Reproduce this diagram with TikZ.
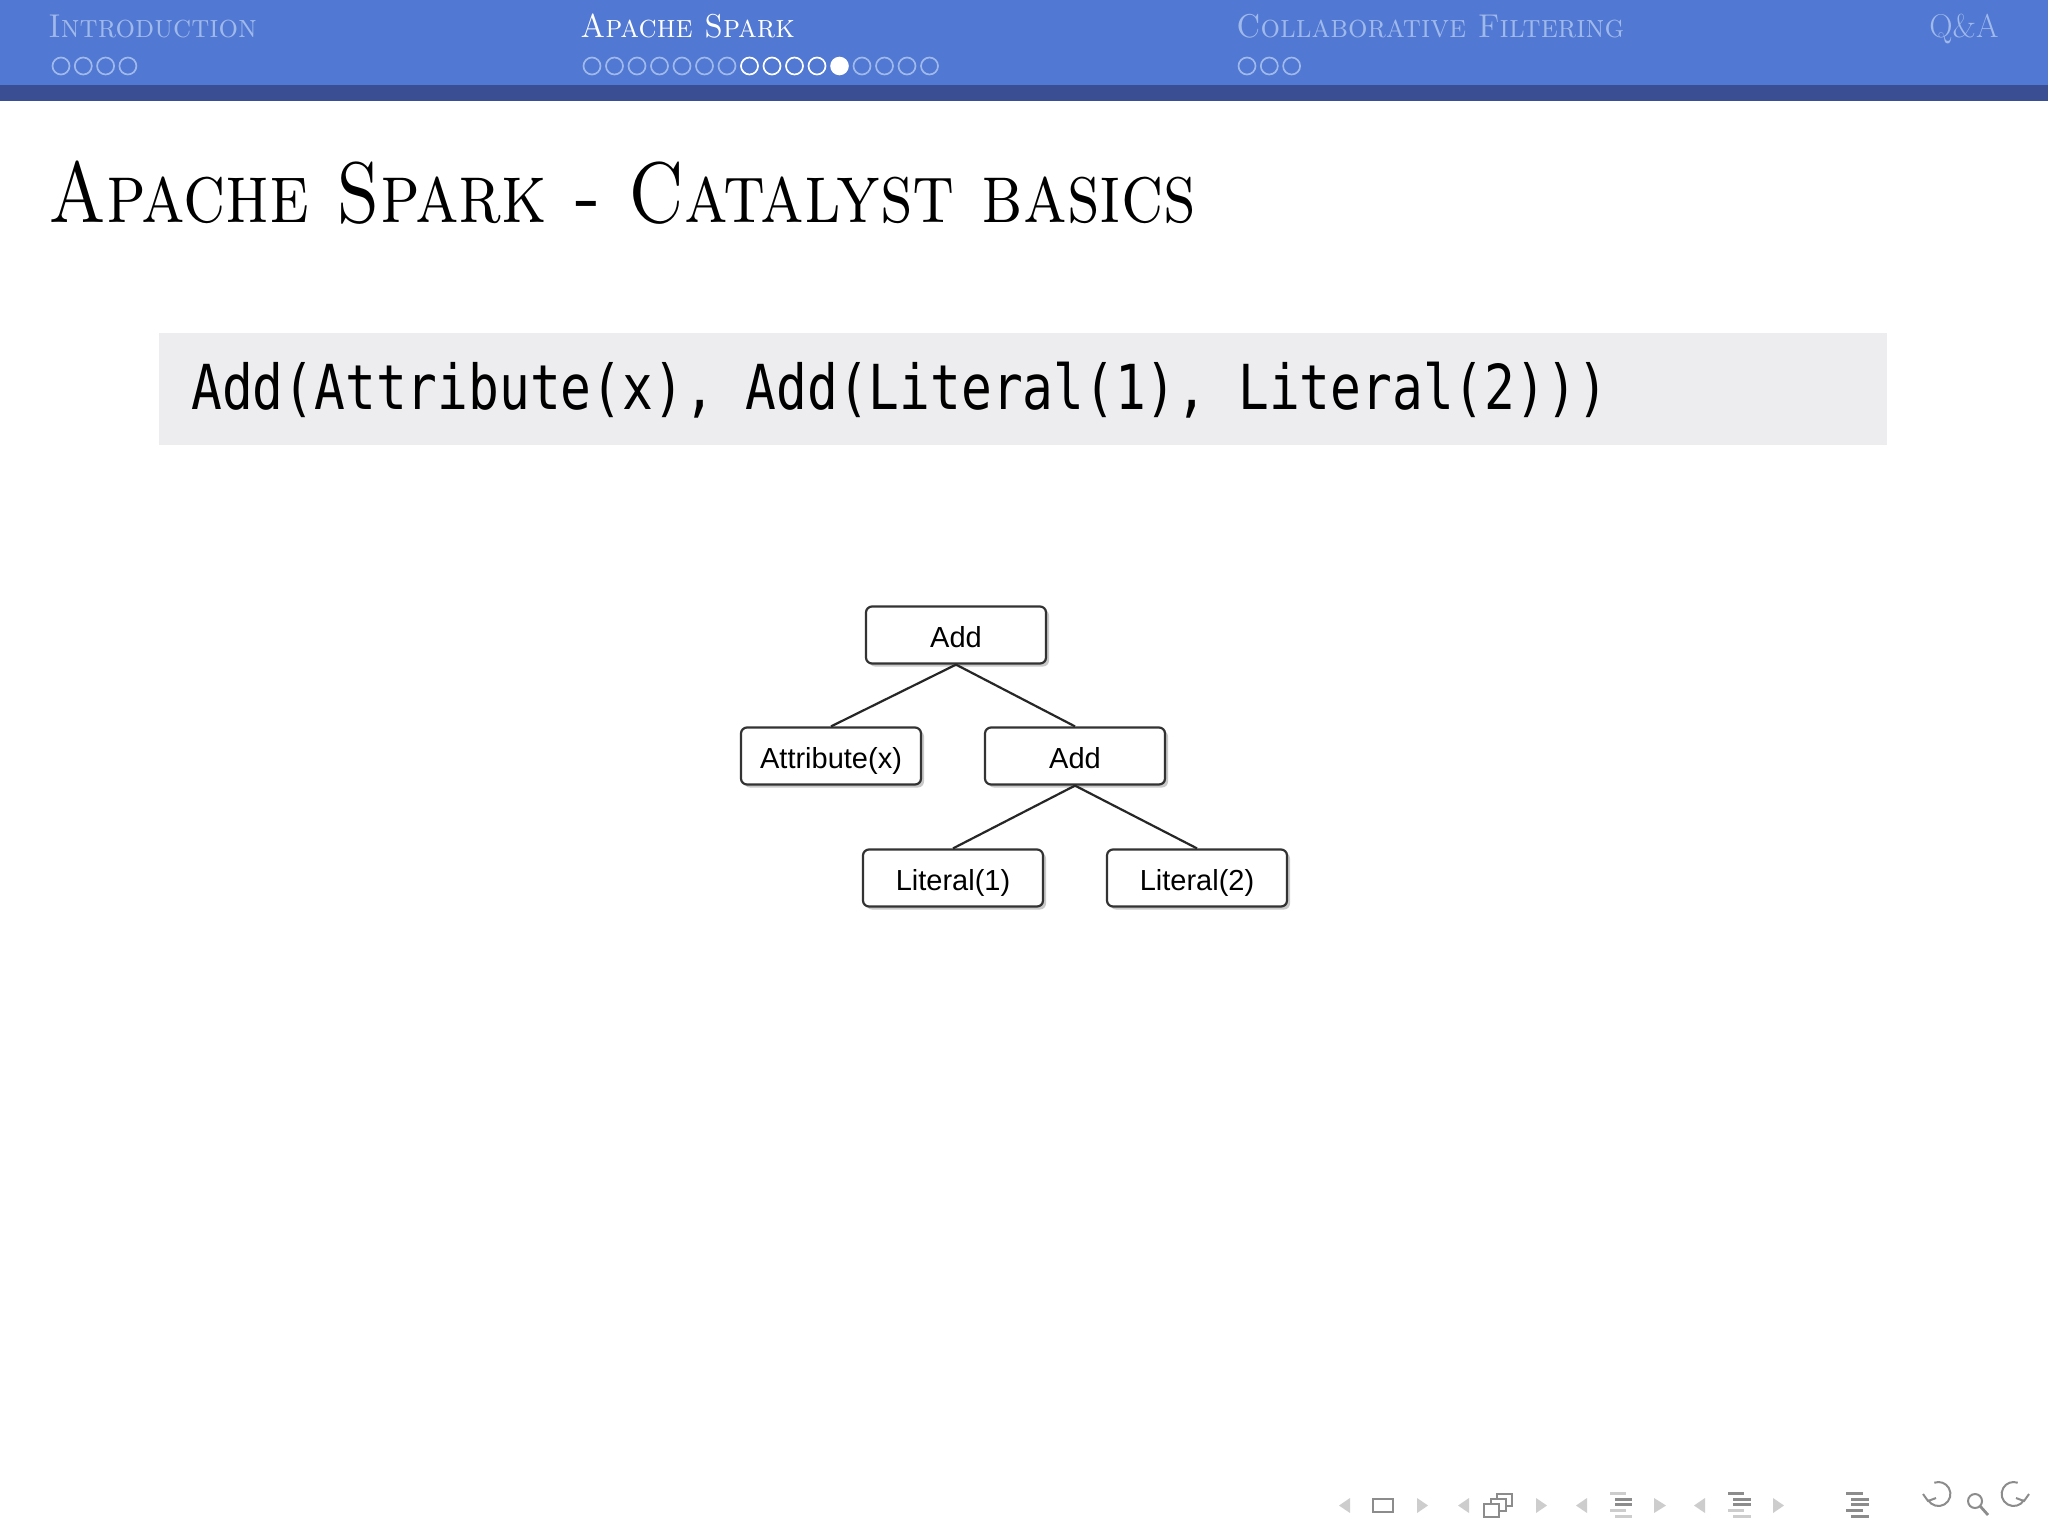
\documentclass[tikz,border=0pt]{standalone}
\usepackage{fontspec}
\newfontfamily\treefont{Liberation Sans}
\newfontfamily\codefont{DejaVu Sans Mono}
\usetikzlibrary{shadows,arrows.meta}
\definecolor{hdr}{RGB}{81,120,210}
\definecolor{hdrdark}{RGB}{58,78,148}
\definecolor{faded}{RGB}{160,185,235}
\definecolor{codebg}{RGB}{237,236,239}
\definecolor{navlight}{RGB}{205,205,205}
\definecolor{navdark}{RGB}{140,140,140}
\newcommand\hsq[1]{\scalebox{0.83}[1]{#1}}
\newcommand\hdrsq[1]{\scalebox{0.93}[1]{#1}}
\tikzset{
  hdrtext/.style={anchor=base west, inner sep=0pt, font=\fontsize{16.5}{16.5}\selectfont},
  tnode/.style={draw=black!80, line width=1.1pt, rounded corners=3pt, fill=white,
    minimum width=90pt, minimum height=28.5pt, inner sep=0pt,
    text height=12.2pt, text depth=0pt,
    font=\treefont\fontsize{14.5}{14.5}\selectfont,
    drop shadow={shadow xshift=1.5pt, shadow yshift=-1.5pt, opacity=0.35, fill=black!60}},
  tedge/.style={line width=1.1pt, black!85},
  fdot/.style={draw=faded, line width=0.85pt},
  wdot/.style={draw=white, line width=0.85pt},
  navtri/.style={fill=navlight},
  navbar/.style={line width=1.5pt},
}
\begin{document}
\begin{tikzpicture}[x=0.5pt,y=-0.5pt]
\useasboundingbox (0,0) rectangle (2048,1536);
\fill[white] (0,0) rectangle (2048,1536);
% header
\fill[hdr] (0,0) rectangle (2048,85);
\fill[hdrdark] (0,85) rectangle (2048,101);
\node[hdrtext, text=faded] (secintro) at (48,38) {\hdrsq{\textsc{Introduction}}};
\node[hdrtext, text=white] (secspark) at (580,38) {\hdrsq{\textsc{Apache Spark}}};
\node[hdrtext, text=faded] (seccf) at (1236,38) {\hdrsq{\textsc{Collaborative Filtering}}};
\node[hdrtext, text=faded] (secqa) at (1929,38) {\scalebox{0.98}[1]{Q\&A}};
% mini frame dots
\foreach \i in {0,...,3} \draw[fdot] (61+22.3*\i,66) ellipse (8.5 and 8.5);
\foreach \i in {0,...,6} \draw[fdot] (592+22.5*\i,66) ellipse (8.5 and 8.5);
\foreach \i in {7,...,10} \draw[wdot] (592+22.5*\i,66) ellipse (8.5 and 8.5);
\fill[white] (592+22.5*11,66) ellipse (9.3 and 9.3);
\foreach \i in {12,...,15} \draw[fdot] (592+22.5*\i,66) ellipse (8.5 and 8.5);
\foreach \i in {0,...,2} \draw[fdot] (1247+22.3*\i,66) ellipse (8.5 and 8.5);
% title
\node[anchor=base west, inner sep=0pt, font=\fontsize{43}{43}\selectfont] (title) at (48,222)
  {\hsq{\textsc{Apache Spark - Catalyst basics}}};
% code box
\node[fill=codebg, inner sep=0pt, minimum width=864pt, minimum height=56pt] (codebox) at (1023,389) {};
\node[anchor=base west, inner sep=0pt, font=\codefont\fontsize{31}{31}\selectfont] (code) at (191,409)
  {\scalebox{0.825}[1]{Add(Attribute(x), Add(Literal(1), Literal(2)))}};
% tree
\node[tnode] (add1) at (956,635) {Add};
\node[tnode] (attr) at (831,756) {Attribute(x)};
\node[tnode] (add2) at (1075,756) {Add};
\node[tnode] (lit1) at (953,878) {Literal(1)};
\node[tnode] (lit2) at (1197,878) {Literal(2)};
\draw[tedge] (add1.south) -- (attr.north);
\draw[tedge] (add1.south) -- (add2.north);
\draw[tedge] (add2.south) -- (lit1.north);
\draw[tedge] (add2.south) -- (lit2.north);
% navigation symbols
\fill[navtri] (1350,1498) -- (1339,1505.5) -- (1350,1513) -- cycle;
\draw[navdark, line width=1.1pt] (1373,1499) rectangle (1393,1512);
\fill[navtri] (1417,1498) -- (1428,1505.5) -- (1417,1513) -- cycle;
\fill[navtri] (1469,1498) -- (1458,1505.5) -- (1469,1513) -- cycle;
\draw[navdark, line width=1.1pt, fill=white] (1497,1494) rectangle (1512,1506);
\draw[navdark, line width=1.1pt, fill=white] (1491,1499) rectangle (1506,1511);
\draw[navdark, line width=1.1pt, fill=white] (1484,1504) rectangle (1499,1517);
\fill[navtri] (1536,1498) -- (1547,1505.5) -- (1536,1513) -- cycle;
\fill[navtri] (1587,1498) -- (1576,1505.5) -- (1587,1513) -- cycle;
\draw[navbar, navlight] (1610,1493) -- (1626,1493);
\draw[navbar, navdark] (1615,1499) -- (1632,1499);
\draw[navbar, navdark] (1615,1504) -- (1632,1504);
\draw[navbar, navlight] (1610,1510) -- (1626,1510);
\draw[navbar, navlight] (1615,1516) -- (1632,1516);
\fill[navtri] (1654,1498) -- (1666,1505.5) -- (1654,1513) -- cycle;
\fill[navtri] (1705,1498) -- (1694,1505.5) -- (1705,1513) -- cycle;
\draw[navbar, navdark] (1728,1493) -- (1744,1493);
\draw[navbar, navdark] (1733,1499) -- (1751,1499);
\draw[navbar, navdark] (1733,1504) -- (1751,1504);
\draw[navbar, navlight] (1728,1510) -- (1744,1510);
\draw[navbar, navlight] (1733,1516) -- (1751,1516);
\fill[navtri] (1773,1498) -- (1784,1505.5) -- (1773,1513) -- cycle;
\draw[navbar, navdark] (1846,1493) -- (1863,1493);
\draw[navbar, navdark] (1851,1499) -- (1869,1499);
\draw[navbar, navdark] (1851,1504) -- (1869,1504);
\draw[navbar, navdark] (1846,1510) -- (1863,1510);
\draw[navbar, navdark] (1851,1516) -- (1869,1516);
% undo, search, redo
\draw[navdark, line width=1pt] (1928,1500) arc[start angle=150, end angle=-110, x radius=12, y radius=12];
\draw[navdark, line width=1pt] (1923,1494) -- (1928,1501) -- (1936,1498);
\draw[navdark, line width=1pt] (1975,1501) circle (7);
\draw[navdark, line width=1.4pt] (1980,1506) -- (1988,1515);
\draw[navdark, line width=1pt] (2024,1500) arc[start angle=30, end angle=290, x radius=12, y radius=12];
\draw[navdark, line width=1pt] (2029,1494) -- (2024,1501) -- (2016,1498);
\end{tikzpicture}
\end{document}
